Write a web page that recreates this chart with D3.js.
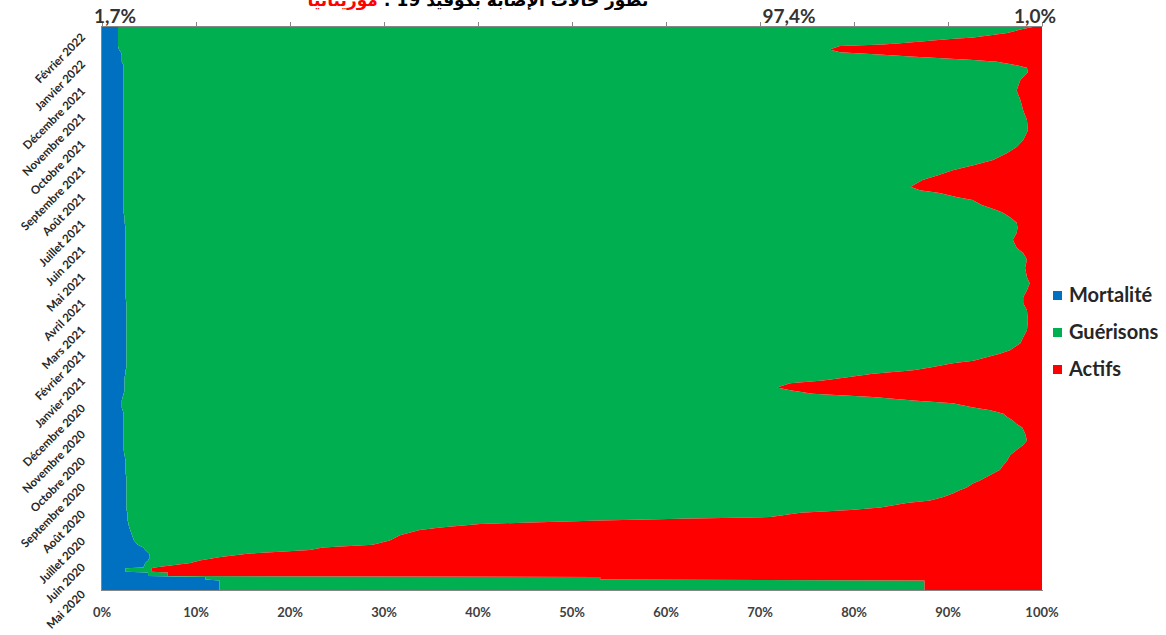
<!DOCTYPE html>
<html><head><meta charset="utf-8">
<script src="https://cdn.jsdelivr.net/npm/d3@7"></script>
<style>
html,body{margin:0;padding:0;background:#fff;overflow:hidden;width:1166px;height:635px}
#title{position:absolute;top:-10px;left:0;width:956px;text-align:center;font-family:"DejaVu Sans",sans-serif;font-weight:bold;font-size:17px;line-height:20px;color:#000;white-space:nowrap}
#title .red{color:#ff0000}
svg{position:absolute;left:0;top:0}
</style>
</head><body>
<div id="chartRoot"></div>
<script>
// ---- data (percent of cumulative cases) ----
const dates = ["2020-05-01","2020-05-12","2020-05-13","2020-05-16","2020-05-17","2020-05-21","2020-05-22","2020-05-26","2020-05-27","2020-06-01",
"2020-06-04","2020-06-08","2020-06-12","2020-06-16","2020-06-19","2020-06-22","2020-06-27","2020-07-03","2020-07-09","2020-07-12",
"2020-07-16","2020-07-18","2020-07-20","2020-07-22","2020-07-24","2020-07-29","2020-08-01","2020-08-04","2020-08-09","2020-08-12",
"2020-08-16","2020-08-20","2020-08-24","2020-08-27","2020-09-01","2020-09-04","2020-09-08","2020-09-12","2020-09-16","2020-09-22",
"2020-09-27","2020-10-03","2020-10-09","2020-10-15","2020-10-20","2020-10-28","2020-11-04","2020-11-08","2020-11-12","2020-11-16",
"2020-11-20","2020-11-24","2020-11-27","2020-12-02","2020-12-05","2020-12-09","2020-12-13","2020-12-17","2020-12-20","2020-12-25",
"2020-12-28","2021-01-01","2021-01-05","2021-01-09","2021-01-12","2021-01-17","2021-01-20","2021-01-24","2021-01-28","2021-02-01",
"2021-02-09","2021-02-16","2021-02-24","2021-03-07","2021-03-19","2021-03-27","2021-04-03","2021-04-11","2021-04-19","2021-04-26",
"2021-05-07","2021-05-16","2021-05-24","2021-05-30","2021-06-08","2021-06-16","2021-06-22","2021-06-28","2021-07-04","2021-07-09",
"2021-07-12","2021-07-18","2021-07-24","2021-07-27","2021-08-01","2021-08-04","2021-08-08","2021-08-10","2021-08-16","2021-08-22",
"2021-08-27","2021-09-02","2021-09-08","2021-09-16","2021-09-23","2021-10-01","2021-10-12","2021-10-24","2021-11-04","2021-11-16",
"2021-11-27","2021-12-09","2021-12-18","2021-12-23","2021-12-26","2021-12-30","2022-01-01","2022-01-05","2022-01-07","2022-01-10",
"2022-01-13","2022-01-17","2022-01-19","2022-01-21","2022-01-25","2022-01-27","2022-02-01","2022-02-05","2022-02-08"];
const mortalite = [12.5,12.5,11.0,11.0,4.9,4.9,2.5,2.5,4.4,4.6,
4.9,5.1,5.0,4.6,4.4,3.8,3.4,3.2,3.0,2.9,
2.8,2.8,2.7,2.7,2.7,2.7,2.6,2.6,2.6,2.6,
2.6,2.6,2.6,2.6,2.6,2.6,2.6,2.5,2.5,2.5,
2.5,2.4,2.3,2.3,2.3,2.3,2.3,2.3,2.3,2.3,
2.3,2.2,2.1,2.1,2.1,2.2,2.3,2.4,2.4,2.4,
2.4,2.4,2.5,2.5,2.6,2.6,2.6,2.6,2.6,2.6,
2.6,2.6,2.6,2.6,2.6,2.6,2.5,2.5,2.5,2.5,
2.5,2.5,2.5,2.5,2.5,2.5,2.5,2.4,2.4,2.3,
2.3,2.3,2.3,2.3,2.3,2.3,2.3,2.3,2.3,2.3,
2.3,2.3,2.3,2.3,2.3,2.3,2.3,2.3,2.3,2.3,
2.3,2.3,2.3,2.3,2.3,2.1,2.1,2.1,2.1,2.0,
1.8,1.7,1.7,1.7,1.7,1.7,1.7,1.7,1.7];
const guerisons = [75.0,75.0,42.0,42.0,2.1,2.1,2.8,2.8,1.2,4.8,
5.5,7.5,10.7,17.5,19.1,25.0,27.2,28.5,30.8,33.1,
37.4,43.8,50.3,58.8,68.4,71.6,77.0,80.2,83.0,85.5,
86.9,87.9,88.7,89.4,90.1,90.8,91.5,92.3,93.0,93.4,
93.8,94.2,95.0,95.7,96.1,95.9,95.6,95.0,94.6,94.0,
93.6,92.3,90.6,88.4,84.2,79.8,73.3,70.8,69.4,70.8,
74.3,76.9,79.5,83.8,85.5,87.9,90.1,91.5,92.9,94.0,
95.1,95.4,95.8,95.9,95.8,95.4,95.5,95.9,96.2,95.9,
95.7,95.9,95.5,94.8,94.4,94.8,94.9,94.9,94.2,93.6,
92.9,91.3,90.3,88.7,86.8,84.7,83.7,84.0,85.0,86.8,
88.2,90.4,92.5,94.0,95.0,95.7,96.2,96.1,95.7,95.4,
95.0,95.4,96.2,96.1,95.0,93.1,90.6,83.9,81.0,76.5,
75.6,76.8,81.4,83.9,88.2,91.0,94.6,96.0,97.3];
const actifs = [12.5,12.5,47.0,47.0,93.0,93.0,94.7,94.7,94.4,90.6,
89.6,87.4,84.3,77.9,76.5,71.2,69.4,68.3,66.2,64.0,
59.8,53.4,47.0,38.5,28.9,25.7,20.4,17.2,14.4,11.9,
10.5,9.5,8.7,8.0,7.3,6.6,5.9,5.2,4.5,4.1,
3.7,3.4,2.7,2.0,1.6,1.8,2.1,2.7,3.1,3.7,
4.1,5.5,7.3,9.5,13.7,18.0,24.4,26.8,28.2,26.8,
23.3,20.7,18.0,13.7,11.9,9.5,7.3,5.9,4.5,3.4,
2.3,2.0,1.6,1.5,1.6,2.0,2.0,1.6,1.3,1.6,
1.8,1.6,2.0,2.7,3.1,2.7,2.6,2.7,3.4,4.1,
4.8,6.4,7.4,9.0,10.9,13.0,14.0,13.7,12.7,10.9,
9.5,7.3,5.2,3.7,2.7,2.0,1.5,1.6,2.0,2.3,
2.7,2.3,1.5,1.6,2.7,4.8,7.3,14.0,16.9,21.5,
22.6,21.5,16.9,14.4,10.1,7.3,3.7,2.3,1.0];

const seriesKeys = ["mortalite","guerisons","actifs"];
const seriesNames = ["Mortalité","Guérisons","Actifs"];
const seriesColors = ["#0070C0","#00B050","#FF0000"];

const monthDates = ["2020-05-01","2020-06-01","2020-07-01","2020-08-01","2020-09-01","2020-10-01","2020-11-01","2020-12-01",
"2021-01-01","2021-02-01","2021-03-01","2021-04-01","2021-05-01","2021-06-01","2021-07-01","2021-08-01","2021-09-01",
"2021-10-01","2021-11-01","2021-12-01","2022-01-01","2022-02-01"];
const monthLabels = ["Mai 2020","Juin 2020","Juillet 2020","Août 2020","Septembre 2020","Octobre 2020","Novembre 2020","Décembre 2020",
"Janvier 2021","Février 2021","Mars 2021","Avril 2021","Mai 2021","Juin 2021","Juillet 2021","Août 2021","Septembre 2021",
"Octobre 2021","Novembre 2021","Décembre 2021","Janvier 2022","Février 2022"];
const xTicks = [0,0.1,0.2,0.3,0.4,0.5,0.6,0.7,0.8,0.9,1];
const xTickLabels = ["0%","10%","20%","30%","40%","50%","60%","70%","80%","90%","100%"];
const topLabels = ["1,7%","97,4%","1,0%"];
const titleMain = "تطور حالات الإصابة بكوفيد 19 : ";
const titleCountry = "موريتانيا";
const domainStart = "2020-05-01", domainEnd = "2022-02-08";

// ---- drawing ----
const W = 1166, H = 635;
const pLeft = 102, pRight = 1042, pTop = 27, pBottom = 590;
const parse = d3.timeParse("%Y-%m-%d");
const FONT = "Lato, 'Open Sans', sans-serif";

const root = d3.select("#chartRoot");
const titleDiv = root.append("div").attr("id","title").attr("dir","rtl");
titleDiv.append("span").text(titleMain);
titleDiv.append("span").attr("class","red").text(titleCountry);

const svg = root.append("svg").attr("width",W).attr("height",H);

const x = d3.scaleLinear().domain([0,1]).range([pLeft,pRight]);
const y = d3.scaleTime().domain([parse(domainStart),parse(domainEnd)]).range([pBottom,pTop]);

const rows = dates.map((d,i)=>({date:parse(d),mortalite:mortalite[i],guerisons:guerisons[i],actifs:actifs[i]}));
const stacked = d3.stack().keys(seriesKeys).offset(d3.stackOffsetExpand)(rows);

const area = d3.area()
  .curve(d3.curveLinear)
  .y(d=>y(d.data.date))
  .x0(d=>x(d[0]))
  .x1(d=>x(d[1]));

svg.append("g").selectAll("path").data(stacked).join("path")
  .attr("d",area)
  .attr("fill",(d,i)=>seriesColors[i]);

// axes lines
const axisColor = "#868686";
svg.append("line").attr("x1",pLeft).attr("x2",pRight).attr("y1",pTop-0.5).attr("y2",pTop-0.5).attr("stroke",axisColor);
svg.append("line").attr("x1",pLeft).attr("x2",pRight+1).attr("y1",pBottom+0.5).attr("y2",pBottom+0.5).attr("stroke",axisColor);
svg.append("line").attr("x1",pLeft-0.5).attr("x2",pLeft-0.5).attr("y1",pTop-1).attr("y2",pBottom+1).attr("stroke",axisColor);

// top tick marks
svg.append("g").selectAll("line").data(xTicks).join("line")
  .attr("x1",d=>Math.round(x(d))+0.5).attr("x2",d=>Math.round(x(d))+0.5)
  .attr("y1",pTop-0.5).attr("y2",pTop-5).attr("stroke",axisColor);

// bottom tick labels
svg.append("g").selectAll("text").data(xTicks).join("text")
  .attr("x",d=>x(d)).attr("y",617)
  .attr("text-anchor","middle")
  .attr("font-family",FONT).attr("font-weight","bold").attr("font-size","13px")
  .attr("fill","#404040")
  .text((d,i)=>xTickLabels[i]);

// month labels
svg.append("g").selectAll("text").data(monthDates).join("text")
  .attr("transform",d=>`translate(86,${y(parse(d))+5}) rotate(-45)`)
  .attr("text-anchor","end")
  .attr("font-family",FONT).attr("font-weight","bold").attr("font-size","11.5px")
  .attr("fill","#262626")
  .text((d,i)=>monthLabels[i]);

// top data labels
const topLabelX = [115, 789, 1035];
svg.append("g").selectAll("text").data(topLabels).join("text")
  .attr("x",(d,i)=>topLabelX[i]).attr("y",23)
  .attr("text-anchor","middle")
  .attr("font-family",FONT).attr("font-weight","bold").attr("font-size","19px")
  .attr("fill","#333")
  .text(d=>d);

// legend
const lg = svg.append("g").selectAll("g").data(seriesNames).join("g")
  .attr("transform",(d,i)=>`translate(1053,${291 + i*37})`);
lg.append("rect").attr("width",9).attr("height",9).attr("fill",(d,i)=>seriesColors[i]);
lg.append("text").attr("x",16).attr("y",11)
  .attr("font-family",FONT).attr("font-weight","bold").attr("font-size","20px")
  .attr("fill","#262626").text(d=>d);
</script>
</body></html>
